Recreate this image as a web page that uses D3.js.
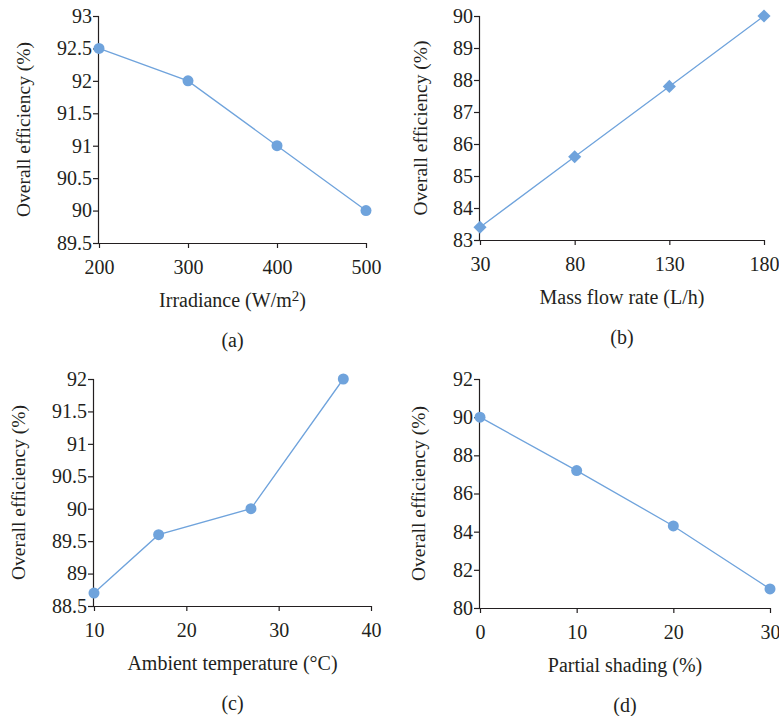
<!DOCTYPE html>
<html>
<head>
<meta charset="utf-8">
<script src="https://cdn.jsdelivr.net/npm/d3@7"></script>
<style>
  body { margin: 0; background: #fff; }
  svg text { font-family: "Liberation Serif", "DejaVu Serif", serif; fill: #231f20; }
</style>
</head>
<body>
<div id="chart-area"></div>
<script>
// data for the four panels
const irradiance = [200, 300, 400, 500]
const effIrradiance = [92.5, 92, 91, 90]
const irradianceTicks = [200, 300, 400, 500]
const effIrradianceTicks = [89.5, 90, 90.5, 91, 91.5, 92, 92.5, 93]

const flowRate = [30, 80, 130, 180]
const effFlow = [83.4, 85.6, 87.8, 90]
const flowTicks = [30, 80, 130, 180]
const effFlowTicks = [83, 84, 85, 86, 87, 88, 89, 90]

const ambientTemp = [10, 17, 27, 37]
const effTemp = [88.7, 89.6, 90, 92]
const tempTicks = [10, 20, 30, 40]
const effTempTicks = [88.5, 89, 89.5, 90, 90.5, 91, 91.5, 92]

const shading = [0, 10, 20, 30]
const effShading = [90, 87.2, 84.3, 81]
const shadingTicks = [0, 10, 20, 30]
const effShadingTicks = [80, 82, 84, 86, 88, 90, 92]

const blue = '#6fa3dc'

const svg = d3.select('#chart-area')
              .append('svg')
              .attr('width', 779)
              .attr('height', 716)

const panels = [
  { xs: irradiance, ys: effIrradiance, xt: irradianceTicks, yt: effIrradianceTicks,
    left: 99, right: 366, top: 16, bottom: 243, ylabX: 23,
    xlabel: 'Irradiance (W/m', sup: '2', xlabelEnd: ')', tag: '(a)', marker: 'circle' },
  { xs: flowRate, ys: effFlow, xt: flowTicks, yt: effFlowTicks,
    left: 480, right: 764, top: 16, bottom: 240, ylabX: 420,
    xlabel: 'Mass flow rate (L/h)', tag: '(b)', marker: 'diamond' },
  { xs: ambientTemp, ys: effTemp, xt: tempTicks, yt: effTempTicks,
    left: 94, right: 371, top: 379, bottom: 606, ylabX: 18,
    xlabel: 'Ambient temperature (°C)', tag: '(c)', marker: 'circle' },
  { xs: shading, ys: effShading, xt: shadingTicks, yt: effShadingTicks,
    left: 480, right: 770, top: 379, bottom: 608, ylabX: 418,
    xlabel: 'Partial shading (%)', tag: '(d)', marker: 'circle' }
]

panels.forEach(p => {
  const g = svg.append('g')

  const x = d3.scaleLinear()
              .domain(d3.extent(p.xt))
              .range([p.left, p.right])
  const y = d3.scaleLinear()
              .domain(d3.extent(p.yt))
              .range([p.bottom, p.top])

  // X Axis
  const xAxisCall = d3.axisBottom(x)
                      .tickValues(p.xt)
                      .tickSize(5)
                      .tickPadding(12)
                      .tickFormat(d3.format('d'))
  const xAxisGroup = g.append('g')
                      .attr('transform', 'translate(0,' + p.bottom + ')')
                      .call(xAxisCall)

  // Y Axis
  const yAxisCall = d3.axisLeft(y)
                      .tickValues(p.yt)
                      .tickSize(6)
                      .tickPadding(1)
                      .tickFormat(d => String(d))
  const yAxisGroup = g.append('g')
                      .attr('transform', 'translate(' + p.left + ',0)')
                      .call(yAxisCall)

  ;[xAxisGroup, yAxisGroup].forEach(a => {
    a.select('.domain').attr('stroke', '#231f20').attr('stroke-width', 1.2)
    a.selectAll('.tick line').attr('stroke', '#231f20').attr('stroke-width', 1.2)
    a.selectAll('.tick text')
     .attr('font-family', '"Liberation Serif", serif')
     .attr('font-size', '20px')
     .attr('fill', '#231f20')
  })
  xAxisGroup.select('.domain').attr('d', 'M' + p.left + ',0.5H' + p.right)
  yAxisGroup.select('.domain').attr('d', 'M-0.5,' + p.top + 'V' + p.bottom)

  // Y Label
  g.append('text')
   .attr('transform', 'translate(' + p.ylabX + ',' + ((p.top + p.bottom) / 2) + ') rotate(-90)')
   .attr('text-anchor', 'middle')
   .attr('dy', '0.35em')
   .attr('font-size', '19.5px')
   .text('Overall efficiency (%)')

  // X Label
  const cx = (p.left + p.right) / 2
  const xl = g.append('text')
              .attr('x', cx)
              .attr('y', p.bottom + 64)
              .attr('text-anchor', 'middle')
              .attr('font-size', '20px')
              .text(p.xlabel)
  if (p.sup) {
    xl.append('tspan').attr('font-size', '15px').attr('dy', -6).text(p.sup)
    xl.append('tspan').attr('dy', 6).text(p.xlabelEnd)
  }

  // panel tag
  g.append('text')
   .attr('x', cx)
   .attr('y', p.bottom + 104)
   .attr('text-anchor', 'middle')
   .attr('font-size', '20px')
   .text(p.tag)

  const pts = p.xs.map((d, i) => ({ x: d, y: p.ys[i] }))

  const line = d3.line().x(d => x(d.x)).y(d => y(d.y))
  g.append('path')
   .datum(pts)
   .attr('d', line)
   .attr('fill', 'none')
   .attr('stroke', blue)
   .attr('stroke-width', 1.3)

  const sym = p.marker === 'diamond'
    ? d3.symbol().type(d3.symbolDiamond2).size(110)
    : d3.symbol().type(d3.symbolCircle).size(95)

  g.selectAll('.pt')
   .data(pts)
   .enter()
   .append('path')
   .attr('class', 'pt')
   .attr('transform', d => 'translate(' + x(d.x) + ',' + y(d.y) + ')')
   .attr('d', sym)
   .attr('fill', blue)
})
</script>
</body>
</html>
